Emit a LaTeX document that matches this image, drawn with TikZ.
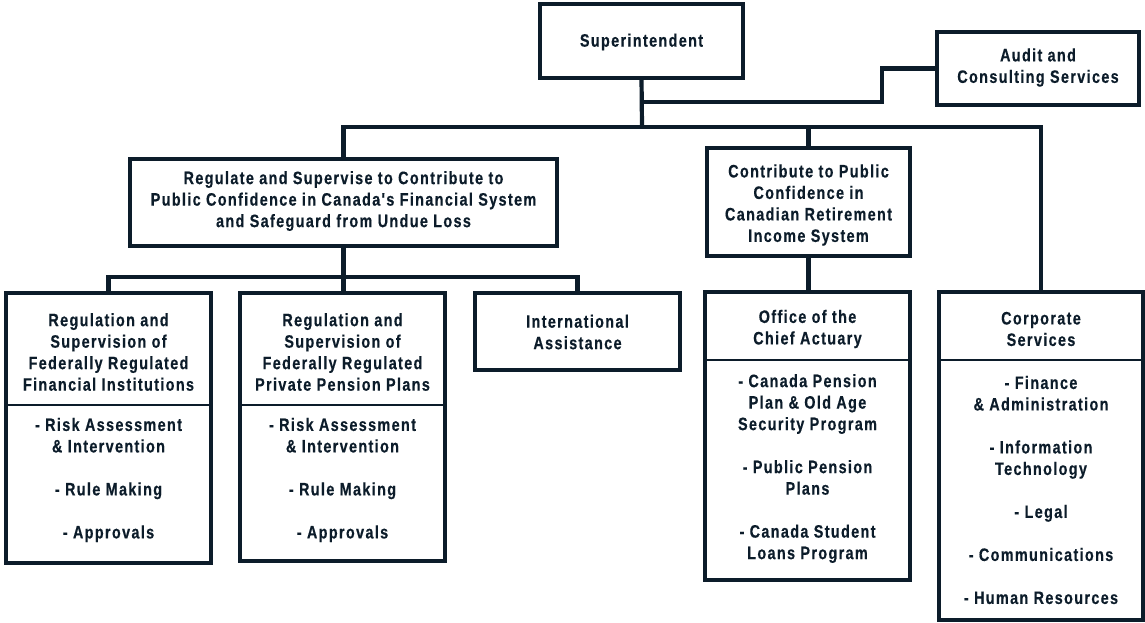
\documentclass[tikz,border=0pt]{standalone}
\usepackage{fontspec}
\newfontfamily\chartfont{Liberation Sans}[FakeStretch=0.8, LetterSpace=7.5, FakeBold=0.4]
\definecolor{navy}{RGB}{12,28,42}
\begin{document}
\begin{tikzpicture}[x=1pt, y=-1pt,
  box/.style={draw=navy, line width=4.2pt, fill=white, inner sep=0pt, outer sep=0pt},
  conn/.style={draw=navy, line width=4.2pt},
  divider/.style={draw=navy, line width=2.5pt},
  txt/.style={text=navy, align=center, inner sep=0pt,
    font=\chartfont\bfseries\fontsize{18pt}{21.5pt}\selectfont}]
\useasboundingbox (0,0) rectangle (1145,623);

% junction points on the upper bus
\coordinate (ja) at (642,102);
\coordinate (jm) at (642,127);

% ---- boxes ----
\node[box, minimum width=203pt, minimum height=74pt] (sup) at (641.5,41) {};
\node[box, minimum width=202pt, minimum height=73pt] (audit) at (1038,68.5) {};
\node[box, minimum width=427pt, minimum height=87pt] (reg) at (343.5,202.5) {};
\node[box, minimum width=203pt, minimum height=108pt] (contrib) at (808.5,202) {};
\node[box, minimum width=205pt, minimum height=270pt] (b1) at (108.5,428) {};
\node[box, minimum width=205pt, minimum height=268pt] (b2) at (342.5,427) {};
\node[box, minimum width=205pt, minimum height=77pt] (intl) at (577.5,331.5) {};
\node[box, minimum width=205pt, minimum height=288pt] (office) at (807.5,436) {};
\node[box, minimum width=204pt, minimum height=328pt] (corp) at (1041,456) {};

% ---- connectors ----
\draw[conn] (sup.south) -- (jm);
\draw[conn] (ja) -- ++(240,0) |- (audit.west);
\draw[conn] (reg.north) -- ++(0,-32) -| (corp.north);
\draw[conn] (contrib.north) -- (contrib.north |- jm);
\draw[conn] (reg.south) -- (reg.south |- b2.north);
\draw[conn] (b1.north) -- ++(0,-16) -| (intl.north);
\draw[conn] (contrib.south) -- (contrib.south |- office.north);

% ---- section dividers ----
\draw[divider] (b1.west |- 0,405) -- (b1.east |- 0,405);
\draw[divider] (b2.west |- 0,405) -- (b2.east |- 0,405);
\draw[divider] (office.west |- 0,360) -- (office.east |- 0,360);
\draw[divider] (corp.west |- 0,360) -- (corp.east |- 0,360);

% ---- labels ----
\node[txt] (supt) at (641.5,42) {Superintendent};
\node[txt] (auditt) at (1038,67.5) {Audit and\\Consulting Services};
\node[txt] (regt) at (343.5,201) {Regulate and Supervise to Contribute to\\Public Confidence in Canada's Financial System\\and Safeguard from Undue Loss};
\node[txt] (contribt) at (808.5,205) {Contribute to Public\\Confidence in\\Canadian Retirement\\Income System};

\node[txt] (b1h) at (108.5,352) {Regulation and\\Supervision of\\Federally Regulated\\Financial Institutions};
\node[txt] (b1b) at (108.5,480) {- Risk Assessment\\\& Intervention\\[21.5pt]- Rule Making\\[21.5pt]- Approvals};

\node[txt] (b2h) at (342.5,352) {Regulation and\\Supervision of\\Federally Regulated\\Private Pension Plans};
\node[txt] (b2b) at (342.5,480) {- Risk Assessment\\\& Intervention\\[21.5pt]- Rule Making\\[21.5pt]- Approvals};

\node[txt] (intlt) at (577.5,332) {International\\Assistance};

\node[txt] (officeh) at (807.5,329) {Office of the\\Chief Actuary};
\node[txt] (officeb) at (807.5,468.5) {- Canada Pension\\Plan \& Old Age\\Security Program\\[21.5pt]- Public Pension\\Plans\\[21.5pt]- Canada Student\\Loans Program};

\node[txt] (corph) at (1041,329) {Corporate\\Services};
\node[txt] (corpb) at (1041,490) {- Finance\\\& Administration\\[21.5pt]- Information\\Technology\\[21.5pt]- Legal\\[21.5pt]- Communications\\[21.5pt]- Human Resources};
\end{tikzpicture}
\end{document}
